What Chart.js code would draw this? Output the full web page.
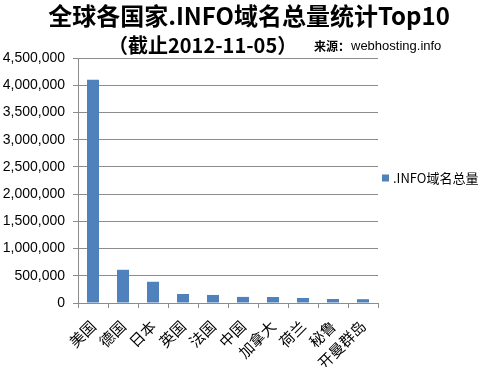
<!DOCTYPE html>
<html>
<head>
<meta charset="utf-8">
<script src="https://cdn.jsdelivr.net/npm/chart.js@4.4.4/dist/chart.umd.min.js"></script>
<style>
  html, body { margin: 0; padding: 0; background: #fff; }
  #wrap { width: 486px; height: 370px; position: relative; }
</style>
</head>
<body>
<div id="wrap"><canvas id="chart"></canvas></div>
<script>
const countries = ['美国', '德国', '日本', '英国', '法国', '中国', '加拿大', '荷兰', '秘鲁', '开曼群岛'];
const infoDomains = [4100000, 610000, 390000, 165000, 148000, 112000, 110000, 92000, 74000, 70000];
const seriesName = '.INFO域名总量';
const titleText = '全球各国家.INFO域名总量统计Top10';
const subtitleText = '（截止2012-11-05）';
const sourceText = '来源：webhosting.info';

const barColor = '#4f81bd';

// title lines + the legend on the right, drawn by hand
const headerPlugin = {
    id: 'header',
    afterDraw(chart) {
        const ctx = chart.ctx;
        ctx.save();
        ctx.fillStyle = '#000';
        ctx.textBaseline = 'middle';
        ctx.textAlign = 'center';
        ctx.font = 'bold 24px "Noto Sans CJK SC", "Liberation Sans", sans-serif';
        ctx.fillText(titleText, 249, 16);

        ctx.textAlign = 'left';
        ctx.font = 'bold 20px "Noto Sans CJK SC", "Liberation Sans", sans-serif';
        ctx.fillText(subtitleText, 108, 45);
        const [src1, src2] = sourceText.split('：');
        ctx.font = 'bold 12px "Noto Sans CJK SC", sans-serif';
        ctx.fillText(src1 + '：', 314, 46);
        ctx.font = '13px "Liberation Sans", sans-serif';
        ctx.fillText(src2, 351, 46);

        // legend
        const ly = (chart.chartArea.top + chart.chartArea.bottom) / 2 - 2;
        ctx.fillStyle = barColor;
        ctx.fillRect(382, ly - 4, 7, 7);
        ctx.fillStyle = '#000';
        ctx.font = '13px "Noto Sans CJK SC", "Liberation Sans", sans-serif';
        ctx.fillText(seriesName, 393, ly);
        ctx.restore();
    }
};

new Chart(document.getElementById('chart'), {
    type: 'bar',
    data: {
        labels: countries,
        datasets: [{
            label: seriesName,
            data: infoDomains,
            backgroundColor: barColor,
            borderWidth: 0,
            barPercentage: 0.4,
            categoryPercentage: 1.0
        }]
    },
    options: {
        responsive: true,
        maintainAspectRatio: false,
        animation: false,
        layout: { padding: { top: 58, left: 0, right: 108, bottom: 3 } },
        plugins: {
            title: { display: false },
            tooltip: { enabled: false },
            legend: { display: false }
        },
        scales: {
            y: {
                min: 0,
                max: 4500000,
                afterFit(scale) { scale.width = 78; },
                ticks: {
                    stepSize: 500000,
                    color: '#000',
                    padding: 8,
                    font: { size: 14, family: '"Liberation Sans", Arial, sans-serif' },
                    callback: v => v.toLocaleString('en-US')
                },
                grid: { color: '#8c8c8c', tickLength: 5, tickColor: '#8c8c8c' },
                border: { color: '#8c8c8c' }
            },
            x: {
                afterFit(scale) { scale.height = 64; },
                ticks: {
                    minRotation: 45,
                    maxRotation: 45,
                    color: '#000',
                    padding: 9,
                    font: { size: 15, family: '"Noto Sans CJK SC", serif' }
                },
                grid: {
                    offset: true,
                    drawOnChartArea: false,
                    tickLength: 5,
                    tickColor: '#8c8c8c'
                },
                border: { color: '#8c8c8c' }
            }
        }
    },
    plugins: [headerPlugin]
});
</script>
</body>
</html>
